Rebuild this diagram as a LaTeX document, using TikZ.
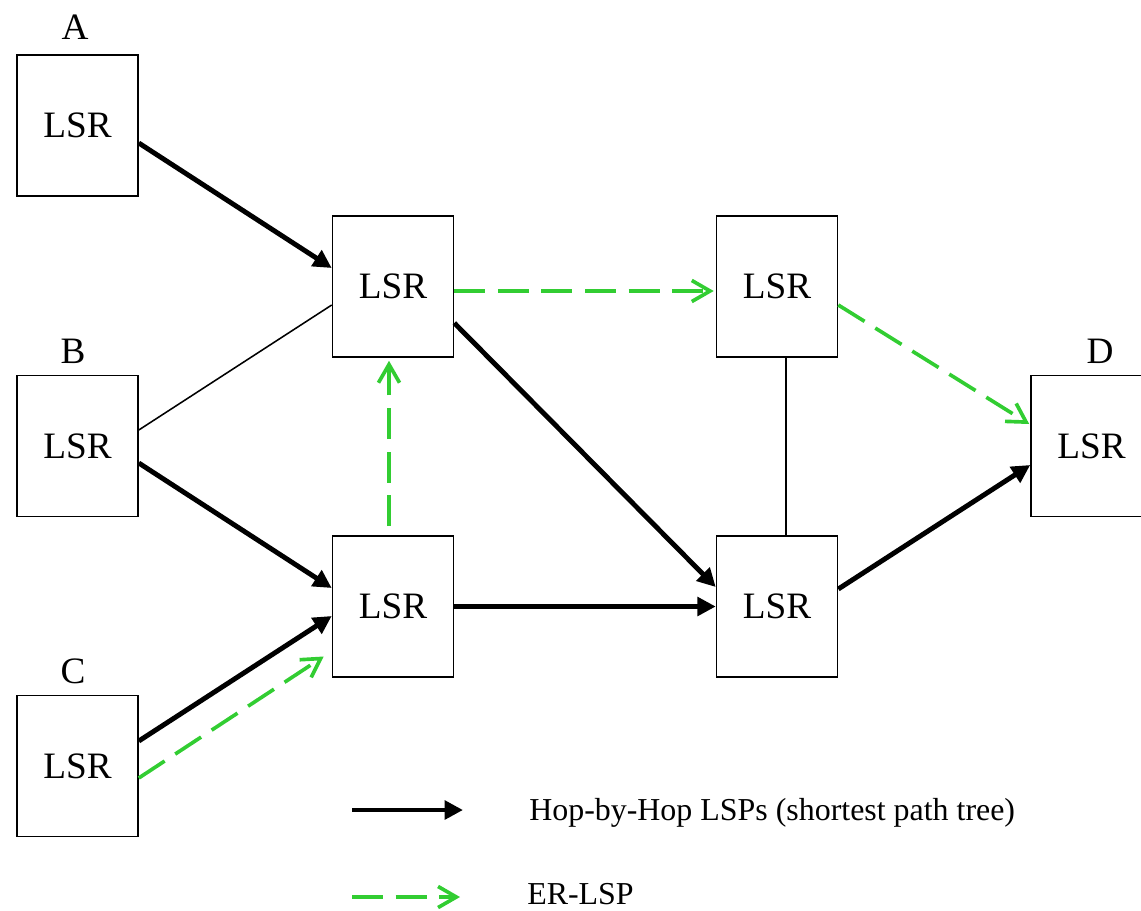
\documentclass[tikz,border=0pt]{standalone}
\usepackage{fontspec}
\setmainfont{Liberation Serif}
\usetikzlibrary{arrows.meta,calc}
\definecolor{erGreen}{RGB}{50,205,50}

\begin{document}
\begin{tikzpicture}
        [
            x = 0.025cm, y = -0.025cm,
            lsr/.style = {
                draw, rectangle, line width=1.1pt,
                minimum width=3.025cm, minimum height=3.525cm,
                font=\fontsize{26.5}{30}\selectfont},
            tag/.style = {inner sep=0pt, font=\fontsize{26.5}{30}\selectfont},
            legend/.style = {inner sep=0pt, anchor=base west, font=\fontsize{22.7}{27}\selectfont},
            hop/.style = {line width=3.5pt, -{Triangle[length=13pt,width=13pt]}},
            er/.style = {erGreen, line width=2.6pt, dash pattern=on 22pt off 9pt,
                -{Straight Barb[length=13pt,width=15pt,line width=2.6pt]}},
            link/.style = {line width=1.1pt}
        ]
        \useasboundingbox (0,0) rectangle (1141,910);
        % routers
        \node [lsr] (A) at (77.5,125.5) {LSR};
        \node [lsr] (B) at (77.5,446) {LSR};
        \node [lsr] (C) at (77.5,766) {LSR};
        \node [lsr] (M1) at (393,286.5) {LSR};
        \node [lsr] (M2) at (393,606.5) {LSR};
        \node [lsr] (R1) at (777,286.5) {LSR};
        \node [lsr] (R2) at (777,606.5) {LSR};
        \node [lsr] (D) at (1091.5,446) {LSR};
        \node [tag] (tagA) at (75,27) {A};
        \node [tag] (tagB) at (73,351) {B};
        \node [tag] (tagC) at (73,671) {C};
        \node [tag] (tagD) at (1100,351) {D};
        % plain links
        \draw [link] ($(B.east)+(0,-16)$) -- ($(M1.west)+(0,18.5)$);
        \draw [link] ($(R1.south)+(9,0)$) -- ($(R2.north)+(9,0)$);
        % hop-by-hop
        \draw [hop] ($(A.east)+(0,17.5)$) -- ($(M1.west)+(0,-18.5)$);
        \draw [hop] ($(B.east)+(0,17)$) -- ($(M2.west)+(0,-18.5)$);
        \draw [hop] ($(C.east)+(0,-25)$) -- ($(M2.west)+(0,9.5)$);
        \draw [hop] ($(M1.east)+(0,36.5)$) -- ($(R2.west)+(0,-19.5)$);
        \draw [hop] (M2.east) -- (R2.west);
        \draw [hop] ($(R2.east)+(0,-17.5)$) -- ($(D.west)+(0,19)$);
        % explicit route
        \draw [er] ($(C.east)+(0,12)$) -- ($(M2.west)+(-8,50)$);
        \draw [er] ($(M2.north)+(-4,-9)$) -- ($(M1.south)+(-4,3)$);
        \draw [er] ($(M1.east)+(0,4.5)$) -- ($(R1.west)+(-2,4.5)$);
        \draw [er] ($(R1.east)+(0,18.5)$) -- ($(D.west)+(-1,-22)$);
        % legend
        \coordinate (hopL) at (352,810);
        \coordinate (hopR) at (463,810);
        \coordinate (erL) at (352,897);
        \coordinate (erR) at (460,897);
        \draw [hop] (hopL) -- (hopR);
        \draw [er] (erL) -- (erR);
        \node [legend] (hopText) at (529,820) {Hop-by-Hop LSPs (shortest path tree)};
        \node [legend] (erText) at (527,904) {ER-LSP};
    \end{tikzpicture}
\end{document}
